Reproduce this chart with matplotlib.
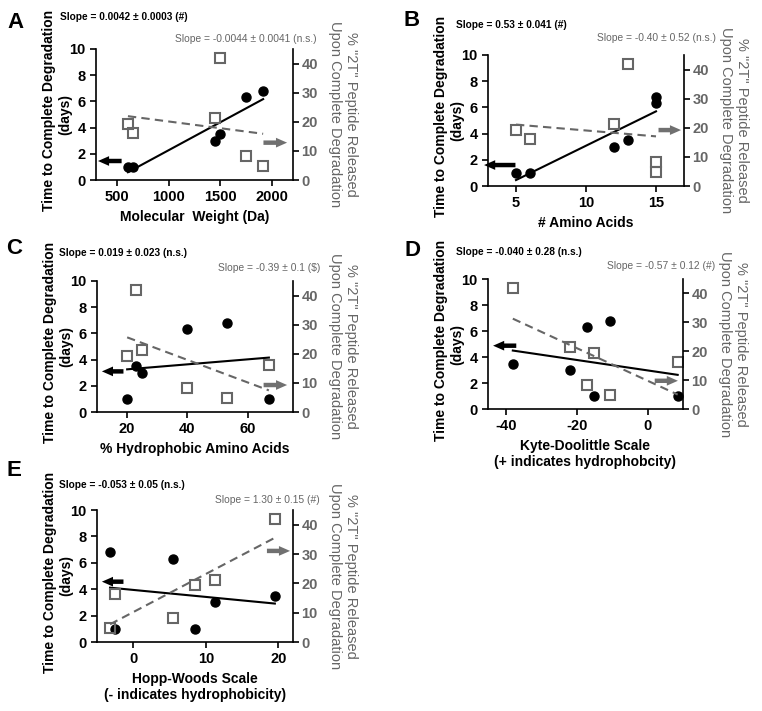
import numpy as np
import matplotlib.pyplot as plt

plt.rcParams['font.family'] = ['Liberation Sans', 'DejaVu Sans']
plt.rcParams['font.weight'] = 'bold'
plt.rcParams['axes.labelweight'] = 'bold'
plt.rcParams['axes.unicode_minus'] = False

# one value per peptide (same order in every list)
days = [1.0, 1.0, 3.0, 3.5, 6.3, 6.8]
pct_2t = [19.3, 16.3, 21.3, 42.0, 8.3, 4.8]
mol_weight = [608, 656, 1446, 1495, 1745, 1912]
n_amino = [5, 6, 12, 13, 15, 15]
pct_hydrophobic = [20, 67, 25, 23, 40, 53]
kyte_doolittle = [-15, 8.5, -22, -38, -17, -10.7]
hopp_woods = [8.5, -2.5, 11.3, 19.5, 5.5, -3.2]

slopes_days = ['Slope = 0.0042 ± 0.0003 (#)', 'Slope = 0.53 ± 0.041 (#)',
               'Slope = 0.019 ± 0.023 (n.s.)', 'Slope = -0.040 ± 0.28 (n.s.)',
               'Slope = -0.053 ± 0.05 (n.s.)']
slopes_2t = ['Slope = -0.0044 ± 0.0041 (n.s.)', 'Slope = -0.40 ± 0.52 (n.s.)',
             'Slope = -0.39 ± 0.1 ($)', 'Slope = -0.57 ± 0.12 (#)',
             'Slope = 1.30 ± 0.15 (#)']

W, H = 762, 711
GRAY = '#666666'

fig = plt.figure(figsize=(W / 100, H / 100), dpi=100)


def rect(l, t, r, b):
    return [l / W, 1 - b / H, (r - l) / W, (b - t) / H]


panels = [
    dict(letter='A', x=mol_weight, xlabel='Molecular  Weight (Da)', xlim=(300, 2200),
         xticks=[500, 1000, 1500, 2000], box=(96, 49, 293, 180), let=(15, 22),
         s1=(60, 17), s2=(317, 39), black=((0.01, 0.145), (0.13, 0.145)),
         gray=((0.97, 0.285), (0.85, 0.285))),
    dict(letter='B', x=n_amino, xlabel='# Amino Acids', xlim=(3, 17),
         xticks=[5, 10, 15], box=(488, 55, 684, 186), let=(412, 21),
         s1=(456, 25), s2=(716, 38), black=((-0.02, 0.16), (0.14, 0.16)),
         gray=((0.985, 0.427), (0.87, 0.427))),
    dict(letter='C', x=pct_hydrophobic, xlabel='% Hydrophobic Amino Acids', xlim=(10, 75),
         xticks=[20, 40, 60], box=(97, 281, 293, 412), let=(14, 249),
         s1=(59, 253), s2=(320, 268), black=((0.025, 0.31), (0.135, 0.31)),
         gray=((0.97, 0.206), (0.85, 0.206))),
    dict(letter='D', x=kyte_doolittle,
         xlabel='Kyte-Doolittle Scale\n(+ indicates hydrophobcity)', xlim=(-45, 10),
         xticks=[-40, -20, 0], box=(488, 279, 683, 409), let=(413, 250),
         s1=(456, 252), s2=(715, 266), black=((0.026, 0.487), (0.145, 0.487)),
         gray=((0.974, 0.217), (0.855, 0.217))),
    dict(letter='E', x=hopp_woods,
         xlabel='Hopp-Woods Scale\n(- indicates hydrophobicity)', xlim=(-5, 22),
         xticks=[0, 10, 20], box=(97, 510, 293, 642), let=(14, 470),
         s1=(59, 485), s2=(320, 500), black=((0.025, 0.457), (0.135, 0.457)),
         gray=((0.985, 0.69), (0.867, 0.69))),
]

arrow_style = 'simple,head_length=0.8,head_width=0.7,tail_width=0.32'

for i, p in enumerate(panels):
    ax = fig.add_axes(rect(*p['box']))
    x = np.array(p['x'], dtype=float)
    xs = np.array([x.min(), x.max()])

    # days (left axis)
    fit = np.polyfit(x, days, 1)
    ax.plot(xs, np.polyval(fit, xs), color='black', lw=1.5, zorder=2)
    ax.plot(x, days, 'o', color='black', ms=6.5, zorder=3)
    ax.set_xlim(*p['xlim'])
    ax.set_ylim(0, 10)
    ax.set_xticks(p['xticks'])
    ax.set_yticks([0, 2, 4, 6, 8, 10])
    ax.set_xlabel(p['xlabel'], fontsize=10, labelpad=4)
    ax.set_ylabel('Time to Complete Degradation', fontsize=10)
    ax.yaxis.set_label_coords(-0.205, 0.53)
    ax.text(-0.122, 0.5, '(days)', transform=ax.transAxes, rotation=90,
            ha='right', va='center', fontsize=10)
    ax.tick_params(labelsize=10.5, width=1.2, length=4, pad=3.5)
    for s in ['top', 'right']:
        ax.spines[s].set_visible(False)
    for s in ['left', 'bottom']:
        ax.spines[s].set_linewidth(1.2)

    # % 2T (right axis)
    ax2 = ax.twinx()
    fit2 = np.polyfit(x, pct_2t, 1)
    ax2.plot(xs, np.polyval(fit2, xs), color=GRAY, lw=1.5, ls='--', dashes=(4, 2.5))
    ax2.plot(x, pct_2t, 's', mfc='none', mec=GRAY, mew=1.5, ms=7)
    ax2.set_ylim(0, 45)
    ax2.set_yticks([0, 10, 20, 30, 40])
    ax2.tick_params(labelsize=10.5, width=1.2, length=4, pad=2, labelcolor=GRAY)
    for s in ['top', 'left', 'bottom']:
        ax2.spines[s].set_visible(False)
    ax2.spines['right'].set_linewidth(1.2)
    ax2.set_ylabel('% "2T" Peptide Released\nUpon Complete Degradation', fontsize=10.5,
                   color=GRAY, fontweight='normal', rotation=270, va='bottom',
                   labelpad=7, linespacing=1.2)

    # axis pointers
    ax2.annotate('', xy=p['black'][0], xytext=p['black'][1], xycoords='axes fraction',
                 annotation_clip=False,
                 arrowprops=dict(arrowstyle=arrow_style, mutation_scale=10, color='black',
                                 lw=0, shrinkA=0, shrinkB=0))
    ax2.annotate('', xy=p['gray'][0], xytext=p['gray'][1], xycoords='axes fraction',
                 annotation_clip=False,
                 arrowprops=dict(arrowstyle=arrow_style, mutation_scale=10, color='#707070',
                                 lw=0, shrinkA=0, shrinkB=0))

    # slope notes and panel letter
    fig.text(p['s1'][0] / W, 1 - p['s1'][1] / H, slopes_days[i], fontsize=7.3,
             ha='left', va='center', color='black')
    fig.text(p['s2'][0] / W, 1 - p['s2'][1] / H, slopes_2t[i], fontsize=7.4,
             ha='right', va='center', color=GRAY, fontweight='normal')
    fig.text(p['let'][0] / W, 1 - p['let'][1] / H, p['letter'], fontsize=16,
             ha='center', va='center')

fig.savefig('out.png', dpi=100)
